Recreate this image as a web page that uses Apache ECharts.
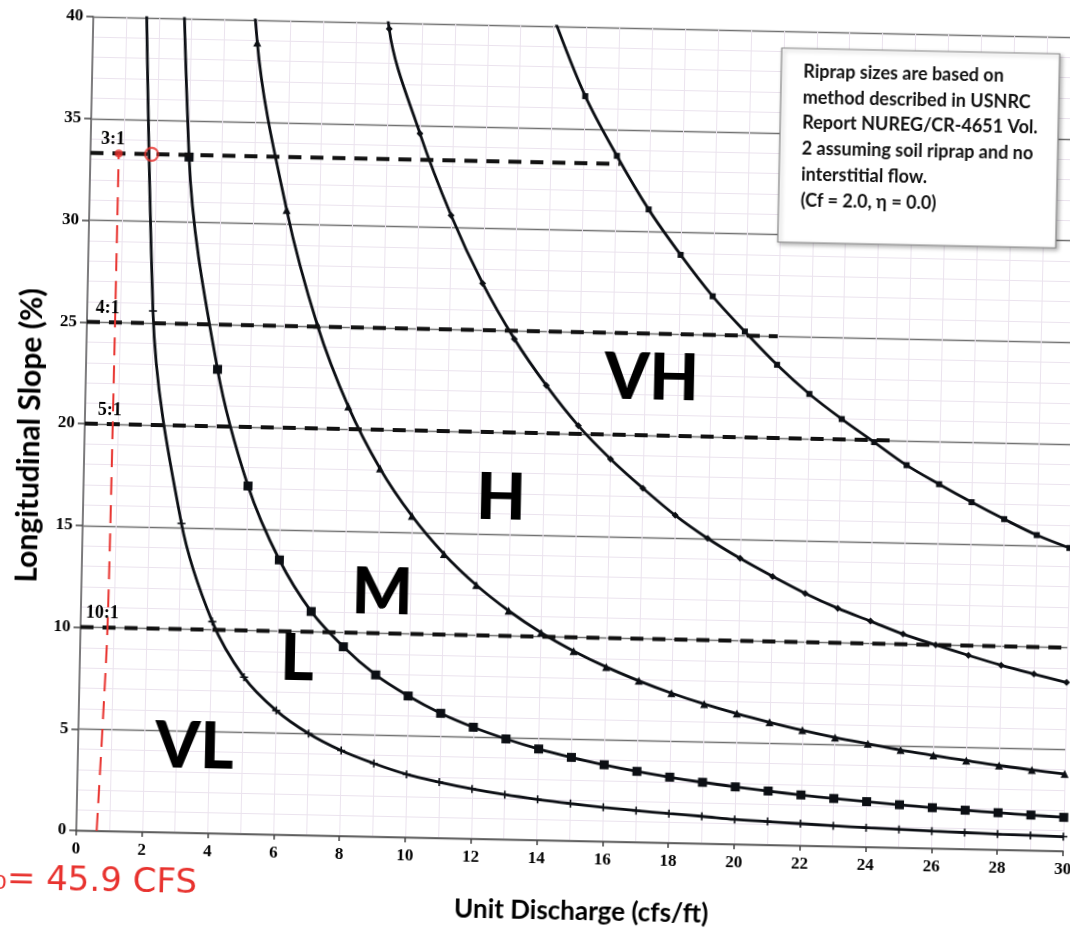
<!DOCTYPE html>
<html><head><meta charset="utf-8">
<script src="https://cdn.jsdelivr.net/npm/echarts@6/dist/echarts.min.js"></script>
<style>
html,body{margin:0;padding:0;background:#fff;overflow:hidden;width:1070px;height:932px;}
#chart{position:absolute;left:0;top:0;width:1110px;height:960px;transform:rotate(1.2deg);transform-origin:535px 466px;}
</style></head><body><div id="chart"></div>
<script>
// Unit discharge (cfs/ft) at which each boundary curve is tabulated
const discharge = [1,2,3,4,5,6,7,8,9,10,11,12,13,14,15,16,17,18,19,20,21,22,23,24,25,26,27,28,29,30];
// Boundary curves, longitudinal slope (%) (null = not tabulated)
const curveVL_L = [77,25.6,15.2,10.4,7.7,6.1,5.0,4.2,3.6,3.1,2.75,2.45,2.2,2.0,1.83,1.68,1.55,1.44,1.34,1.22,1.15,1.08,1.01,0.95,0.9,0.85,0.81,0.77,0.74,0.71];
const curveL_M  = [null,75,33.2,22.8,17.1,13.5,11.0,9.3,7.95,6.95,6.13,5.48,4.94,4.48,4.10,3.77,3.48,3.23,3.01,2.82,2.65,2.49,2.35,2.23,2.11,2.00,1.91,1.82,1.74,1.66];
const curveM_H  = [null,null,null,60,38.9,30.7,25.1,21.1,18.1,15.8,13.96,12.47,11.24,10.2,9.33,8.58,7.93,7.36,6.86,6.42,6.03,5.67,5.35,5.07,4.80,4.57,4.35,4.14,3.96,3.79];
const curveH_VH = [null,null,null,null,null,null,null,55,39.7,34.6,30.6,27.3,24.6,22.35,20.4,18.8,17.4,16.1,15.0,14.05,13.2,12.4,11.7,11.1,10.5,10.0,9.52,9.07,8.67,8.29];
const curveVH   = [null,null,null,null,null,null,null,null,null,null,null,null,44.6,40.4,36.6,33.7,31.1,28.9,26.9,25.2,23.6,22.2,21.0,19.9,18.8,17.9,17.05,16.25,15.5,14.9];

// Side-slope ratio lines
const ratioLabels = ['3:1','4:1','5:1','10:1'];
const ratioSlopes = [33.3,25,20,10];
const ratioEnds   = [16.1,21.0,24.5,30];
const ratioLabelQ = [0.31,0.26,0.39,0.15];

// Riprap class regions
const regionNames = ['VL','L','M','H','VH'];
const regionQ = [3.54,6.6,9.15,12.7,17.2];
const regionS = [4.2,8.65,11.95,16.75,22.8];

// Hand-drawn red annotation
const redLineQ = [0.62,0.73,0.82,0.85,0.86];
const redLineS = [0,5,10,20,33.3];
const redRingQ = 1.86, redRingS = 33.3;
const redNote = '\u2080= 45.9 CFS';

const noteLines = ['Riprap sizes are based on','method described in USNRC','Report NUREG/CR-4651 Vol.','2 assuming soil riprap and no','interstitial flow.','(Cf = 2.0, \u03b7 = 0.0)'];

const INK = '#0c0f14';
const plusPath = 'path://M4,0L6,0L6,4L10,4L10,6L6,6L6,10L4,10L4,6L0,6L0,4L4,4Z';
const curves = [
  {d: curveVL_L, sym: plusPath, size: 8},
  {d: curveL_M, sym: 'rect', size: 9},
  {d: curveM_H, sym: 'triangle', size: 8},
  {d: curveH_VH, sym: 'diamond', size: 7},
  {d: curveVH, sym: 'rect', size: 6}
];

const series = [];
curves.forEach(c => {
  series.push({
    type: 'line', smooth: 0.35, clip: true,
    data: discharge.map((q,i)=>[q,c.d[i]]).filter(p=>p[1]!==null),
    symbol: c.sym, symbolSize: c.size, showSymbol: true,
    lineStyle: {color: INK, width: 2.8},
    itemStyle: {color: INK},
    z: 3
  });
});
ratioSlopes.forEach((s,i) => {
  series.push({
    type: 'line', data: [[0,s],[ratioEnds[i],s]], symbol: 'none',
    lineStyle: {color: '#111', width: 4, type: [13,9]}, z: 4
  });
});
series.push({
  type: 'line', data: redLineQ.map((q,i)=>[q, redLineS[i]]), symbol: 'none', smooth: 0.3,
  lineStyle: {color: '#e8322e', width: 2, type: [18,10]}, z: 6
});
series.push({
  type: 'scatter', data: [[redRingQ, redRingS]], symbol: 'circle', symbolSize: 13,
  itemStyle: {color: 'transparent', borderColor: '#e8322e', borderWidth: 2.2}, z: 7
});
series.push({
  type: 'scatter', data: [[redLineQ[redLineQ.length-1], redLineS[redLineS.length-1]]], symbol: 'circle', symbolSize: 8,
  itemStyle: {color: '#e8322e'}, z: 7
});

const chart = echarts.init(document.getElementById('chart'), null, {renderer: 'canvas'});
chart.setOption({
  animation: false,
  backgroundColor: '#fff',
  grid: {left: 84, top: 26, width: 987, height: 814, containLabel: false},
  xAxis: {
    type: 'value', min: 0, max: 30, interval: 2,
    name: 'Unit Discharge (cfs/ft)', nameLocation: 'middle', nameGap: 58,
    nameTextStyle: {fontFamily: 'Lato', fontWeight: 'bold', fontSize: 26, color: '#000', padding: [0,0,0,26]},
    axisLine: {show: true, lineStyle: {color: '#555', width: 1.5}},
    axisTick: {show: true, length: 5, lineStyle: {color: '#444', width: 1.5}},
    axisLabel: {fontFamily: 'Liberation Serif', fontWeight: 'bold', fontSize: 17, color: '#000', margin: 10},
    splitLine: {show: true, lineStyle: {color: '#ebe3ee', width: 1}},
    minorTick: {show: false, splitNumber: 2},
    minorSplitLine: {show: true, lineStyle: {color: '#ebe3ee', width: 1}}
  },
  yAxis: {
    type: 'value', min: 0, max: 40, interval: 5,
    name: 'Longitudinal Slope (%)', nameLocation: 'middle', nameGap: 40,
    nameTextStyle: {fontFamily: 'Lato', fontWeight: 'bold', fontSize: 30, color: '#000', padding: [0,26,0,0]},
    axisLine: {show: true, lineStyle: {color: '#555', width: 1.5}},
    axisTick: {show: true, length: 7, lineStyle: {color: '#444', width: 1.5}},
    axisLabel: {fontFamily: 'Liberation Serif', fontWeight: 'bold', fontSize: 17, color: '#000', margin: 10},
    splitLine: {show: true, lineStyle: {color: '#707070', width: 1.4}},
    minorTick: {show: false, splitNumber: 5},
    minorSplitLine: {show: true, lineStyle: {color: '#ebe3ee', width: 1}}
  },
  series: series
});

// Text annotations placed through the chart's own coordinate conversion
const graphics = [];
regionNames.forEach((t,i) => {
  const p = chart.convertToPixel({gridIndex: 0}, [regionQ[i], regionS[i]]);
  graphics.push({type: 'text', z: 50, x: p[0], y: p[1],
    style: {text: t, font: '900 64px Lato', fill: '#000', align: 'center', verticalAlign: 'middle'}});
});
ratioLabels.forEach((t,i) => {
  const p = chart.convertToPixel({gridIndex: 0}, [ratioLabelQ[i], ratioSlopes[i]+0.25]);
  graphics.push({type: 'text', z: 50, x: p[0], y: p[1],
    style: {text: t, font: 'bold 18px "Liberation Serif"', fill: '#000', align: 'left', verticalAlign: 'bottom'}});
});
graphics.push(
  {type: 'rect', z: 100, shape: {x: 773, y: 43, width: 278, height: 194},
   style: {fill: '#fff', stroke: '#8a8a8a', lineWidth: 1.2, shadowBlur: 4, shadowColor: 'rgba(0,0,0,0.3)', shadowOffsetX: 2, shadowOffsetY: 2}},
  {type: 'text', z: 101, x: 795, y: 53,
   style: {text: noteLines.join('\n'), font: 'bold 18px Lato', fill: '#111', lineHeight: 25.8}},
  {type: 'text', z: 101, x: 2, y: 874,
   style: {text: redNote, font: '34px "DejaVu Sans"', fill: '#e8322e'}}
);
chart.setOption({graphic: graphics});
</script></body></html>
